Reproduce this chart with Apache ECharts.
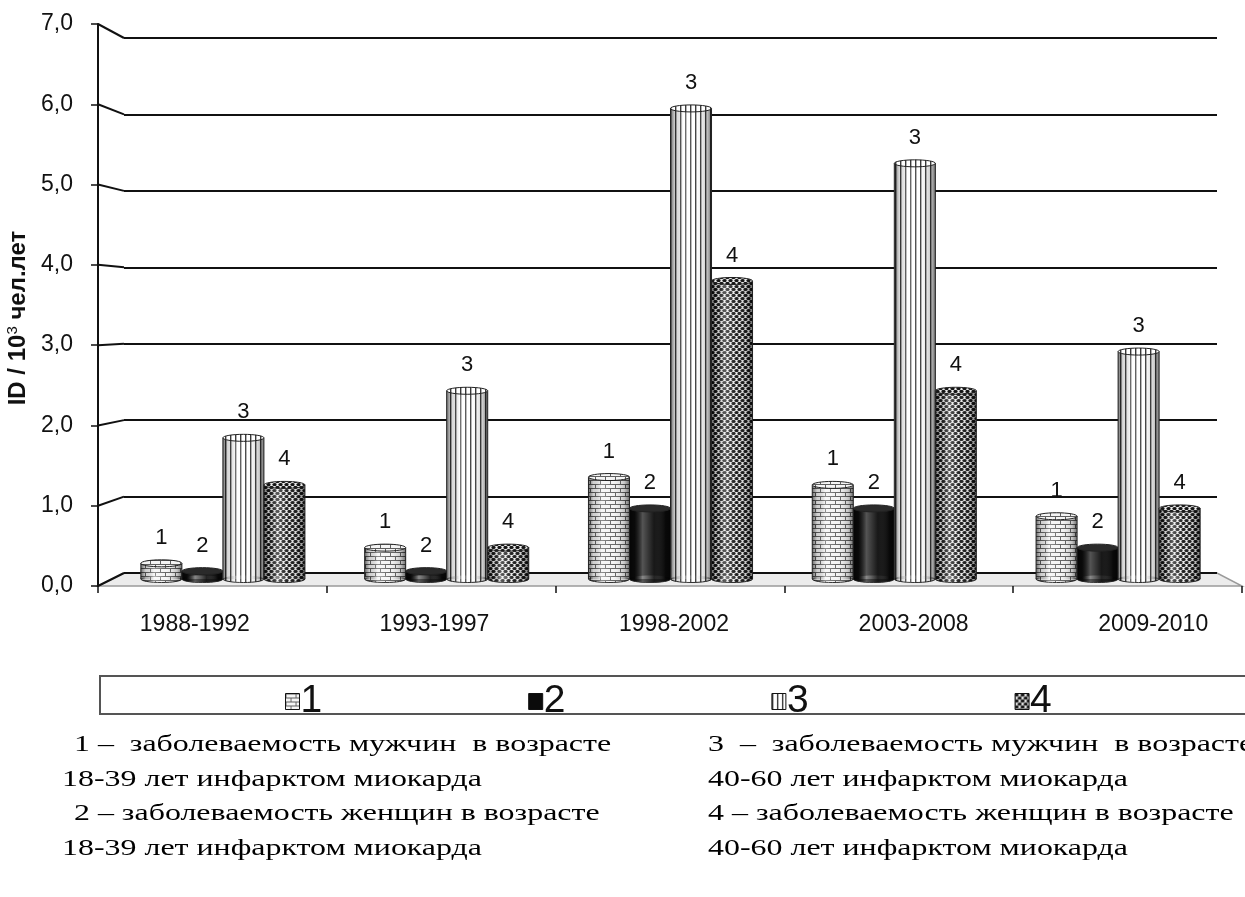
<!DOCTYPE html>
<html>
<head>
<meta charset="utf-8">
<script src="https://cdn.jsdelivr.net/npm/echarts@6/dist/echarts.min.js"></script>
<style>
  html, body { margin: 0; padding: 0; background: #fff; }
  #chart { width: 1245px; height: 897px; }
</style>
</head>
<body>
<div id="chart"></div>
<script>
// Periods and incidence per 10^3 person-years
const categories = ['1988-1992', '1993-1997', '1998-2002', '2003-2008', '2009-2010'];
const seriesNames = ['1', '2', '3', '4'];
const men18to39 = [0.2, 0.4, 1.3, 1.2, 0.8];
const women18to39 = [0.1, 0.1, 0.9, 0.9, 0.4];
const men40to60 = [1.8, 2.4, 6.0, 5.3, 2.9];
const women40to60 = [1.2, 0.4, 3.8, 2.4, 0.9];
const yTicks = [0, 1, 2, 3, 4, 5, 6, 7];
const yName = '{b|ID / 10}{s|3}{b| чел.лет}';
const notesLeft = [
  ' 1 –  заболеваемость мужчин  в возрасте',
  '18-39 лет инфарктом миокарда',
  ' 2 – заболеваемость женщин в возрасте',
  '18-39 лет инфарктом миокарда'
];
const notesRight = [
  '3  –  заболеваемость мужчин  в возрасте',
  '40-60 лет инфарктом миокарда',
  '4 – заболеваемость женщин в возрасте',
  '40-60 лет инфарктом миокарда'
];

// Plot layout: front axis plane, back wall, mid-depth plane for the cylinders
const FRONT = { left: 98, top: 24, width: 1144, height: 562 };
const BACK = { left: 124, top: 38, width: 1093, height: 535 };
const BARS = { left: 111, top: 30, width: 1119, height: 549 };
const LABELS = { left: 75, top: 24, width: 1198, height: 562 };
const BAR_RATIO = 41 / 223.7;
const SANS = '"Liberation Sans", Arial, sans-serif';

// Fill textures
function tile(w, h, draw) {
  const c = document.createElement('canvas');
  c.width = w; c.height = h;
  draw(c.getContext('2d'));
  return { image: c, repeat: 'repeat' };
}
const brick = tile(10, 8, ctx => {
  ctx.fillStyle = '#f4f4f4'; ctx.fillRect(0, 0, 10, 8);
  ctx.fillStyle = '#5e5e5e';
  ctx.fillRect(0, 0, 10, 1); ctx.fillRect(0, 4, 10, 1);
  ctx.fillRect(0, 0, 1, 4); ctx.fillRect(5, 4, 1, 4);
});
const solid = '#0b0b0b';
const stripes = tile(5, 2, ctx => {
  ctx.fillStyle = '#ffffff'; ctx.fillRect(0, 0, 5, 2);
  ctx.fillStyle = '#3a3a3a'; ctx.fillRect(0, 0, 1, 2);
  ctx.fillStyle = '#b0b0b0'; ctx.fillRect(1, 0, 1, 2);
});
const mesh = tile(6, 6, ctx => {
  ctx.fillStyle = '#e8e8e8'; ctx.fillRect(0, 0, 6, 6);
  ctx.fillStyle = '#151515';
  [[1.5, 1.5], [4.5, 4.5], [4.5, -1.5], [-1.5, 4.5], [7.5, 1.5], [1.5, 7.5]].forEach(p => {
    ctx.beginPath(); ctx.ellipse(p[0], p[1], 2.1, 1.6, 0, 0, Math.PI * 2); ctx.fill();
  });
});
const fills = [brick, solid, stripes, mesh];
const values = [men18to39, women18to39, men40to60, women40to60];

function cylinder(k) {
  const fill = fills[k];
  return function (params, api) {
    const i = api.value(0);
    const v = api.value(1);
    const base = api.coord([i, 0]);
    const top = api.coord([i, v]);
    const band = api.size([1, 0])[0];
    const w = band * BAR_RATIO;
    const cx = base[0] + (k - 1.5) * w;
    const x0 = cx - w / 2;
    const ry = 3.5;
    const h = base[1] - top[1];
    const shade = () => new echarts.graphic.LinearGradient(0, 0, 1, 0, [
      { offset: 0, color: 'rgba(0,0,0,0.55)' },
      { offset: 0.12, color: 'rgba(0,0,0,0.15)' },
      { offset: 0.32, color: 'rgba(255,255,255,0.30)' },
      { offset: 0.6, color: 'rgba(255,255,255,0.05)' },
      { offset: 0.88, color: 'rgba(0,0,0,0.2)' },
      { offset: 1, color: 'rgba(0,0,0,0.55)' }
    ]);
    return {
      type: 'group',
      children: [
        { type: 'ellipse', shape: { cx: cx, cy: base[1], rx: w / 2, ry: ry }, style: { fill: fill, stroke: '#222', lineWidth: 1 } },
        { type: 'rect', shape: { x: x0, y: top[1], width: w, height: h }, style: { fill: fill } },
        { type: 'ellipse', shape: { cx: cx, cy: base[1], rx: w / 2, ry: ry }, style: { fill: shade() } },
        { type: 'rect', shape: { x: x0, y: top[1], width: w, height: h }, style: { fill: shade() } },
        { type: 'line', shape: { x1: x0, y1: top[1], x2: x0, y2: base[1] }, style: { stroke: '#222', lineWidth: 1 } },
        { type: 'line', shape: { x1: x0 + w, y1: top[1], x2: x0 + w, y2: base[1] }, style: { stroke: '#222', lineWidth: 1 } },
        { type: 'ellipse', shape: { cx: cx, cy: top[1], rx: w / 2, ry: ry }, style: { fill: k === 1 ? '#2a2a2a' : fill, stroke: '#222', lineWidth: 1 } },
        {
          type: 'text', x: cx, y: top[1] - ry - 11,
          style: { text: seriesNames[k], align: 'center', verticalAlign: 'bottom', fontSize: 22, fontFamily: SANS, fill: '#111' }
        }
      ]
    };
  };
}

const chart = echarts.init(document.getElementById('chart'), null, { renderer: 'canvas' });

const tickFmt = v => v.toFixed(1).replace('.', ',');
const gridOf = r => Object.assign({ containLabel: false, outerBoundsMode: 'none' }, r);

const option = {
  animation: false,
  backgroundColor: '#ffffff',
  grid: [gridOf(FRONT), gridOf(BACK), gridOf(BARS), gridOf(LABELS)],
  xAxis: [
    {
      gridIndex: 0, type: 'category', data: categories, boundaryGap: true,
      axisLine: { show: false }, axisLabel: { show: false },
      axisTick: { show: true, length: 7, lineStyle: { color: '#111', width: 1.5 } }
    },
    { gridIndex: 1, type: 'category', data: categories, show: false },
    { gridIndex: 2, type: 'category', data: categories, show: false },
    {
      gridIndex: 3, type: 'category', data: categories,
      axisLine: { show: false }, axisTick: { show: false },
      axisLabel: { margin: 27, fontSize: 23, color: '#111', fontFamily: SANS }
    }
  ],
  yAxis: [
    {
      gridIndex: 0, type: 'value', min: 0, max: 7, interval: 1,
      axisLine: { show: true, lineStyle: { color: '#111', width: 2 } },
      axisTick: { show: true, length: 7, lineStyle: { color: '#111', width: 1.5 } },
      axisLabel: { formatter: tickFmt, margin: 25, fontSize: 23, color: '#111', fontFamily: SANS },
      splitLine: { show: false },
      name: yName, nameLocation: 'middle', nameRotate: 90, nameGap: 55,
      nameTextStyle: {
        color: '#111', fontFamily: SANS, padding: [0, 26, 0, 0],
        rich: {
          b: { fontSize: 24, fontWeight: 'bold', fontFamily: SANS, color: '#111' },
          s: { fontSize: 15, fontWeight: 'normal', fontFamily: SANS, color: '#111', verticalAlign: 'top', padding: [0, 0, 10, 0] }
        }
      }
    },
    {
      gridIndex: 1, type: 'value', min: 0, max: 7, interval: 1,
      axisLine: { show: false }, axisTick: { show: false }, axisLabel: { show: false },
      splitLine: { show: true, lineStyle: { color: '#111', width: 2 } }
    },
    { gridIndex: 2, type: 'value', min: 0, max: 7, interval: 1, show: false, splitLine: { show: false } },
    { gridIndex: 3, type: 'value', min: 0, max: 7, interval: 1, show: false, splitLine: { show: false } }
  ],
  legend: {
    data: seriesNames,
    left: 280, top: 677,
    itemGap: 206, itemWidth: 14, itemHeight: 16,
    icon: 'rect',
    itemStyle: { borderColor: '#111', borderWidth: 1 },
    textStyle: { fontSize: 39, color: '#111', fontFamily: SANS, padding: [0, 0, 0, -4] }
  },
  series: seriesNames.map((name, k) => ({
    name: name,
    type: 'custom',
    xAxisIndex: 2, yAxisIndex: 2,
    itemStyle: { color: fills[k] },
    encode: { x: 0, y: 1 },
    data: values[k].map((v, i) => [i, v]),
    renderItem: cylinder(k),
    z: 5
  }))
};

chart.setOption(option);

// Perspective pieces: floor and connectors from the front axis to the back wall
const elements = [];
const y0f = chart.convertToPixel({ yAxisIndex: 0 }, 0);
const y0b = chart.convertToPixel({ yAxisIndex: 1 }, 0);
elements.push({
  type: 'polygon', z: -10,
  shape: { points: [[FRONT.left, y0f], [FRONT.left + FRONT.width, y0f], [BACK.left + BACK.width, y0b], [BACK.left, y0b]] },
  style: { fill: '#ececec', stroke: '#9a9a9a', lineWidth: 1.5 }
});
yTicks.forEach(v => {
  const yf = chart.convertToPixel({ yAxisIndex: 0 }, v);
  const yb = chart.convertToPixel({ yAxisIndex: 1 }, v);
  elements.push({
    type: 'line', z: 1,
    shape: { x1: FRONT.left, y1: yf, x2: BACK.left, y2: yb },
    style: { stroke: '#111', lineWidth: 2 }
  });
});
// Legend frame
elements.push({
  type: 'rect', z: -5,
  shape: { x: 100, y: 676, width: 1200, height: 38 },
  style: { fill: 'none', stroke: '#555', lineWidth: 2 }
});
// Explanatory notes (wide-set serif lines)
const noteFont = '"Liberation Serif", "Times New Roman", serif';
const noteY = [745, 780, 814, 849];
const leftX = [66, 62, 66, 62];
const noteStyle = t => ({ text: t, fontSize: 24, fontFamily: noteFont, fill: '#000', verticalAlign: 'middle' });
notesLeft.forEach((t, i) => {
  elements.push({ type: 'text', x: leftX[i], y: noteY[i], scaleX: 1.33, style: noteStyle(t) });
});
notesRight.forEach((t, i) => {
  elements.push({ type: 'text', x: 708, y: noteY[i], scaleX: 1.33, style: noteStyle(t) });
});

chart.setOption({ graphic: { elements: elements } });
</script>
</body>
</html>
